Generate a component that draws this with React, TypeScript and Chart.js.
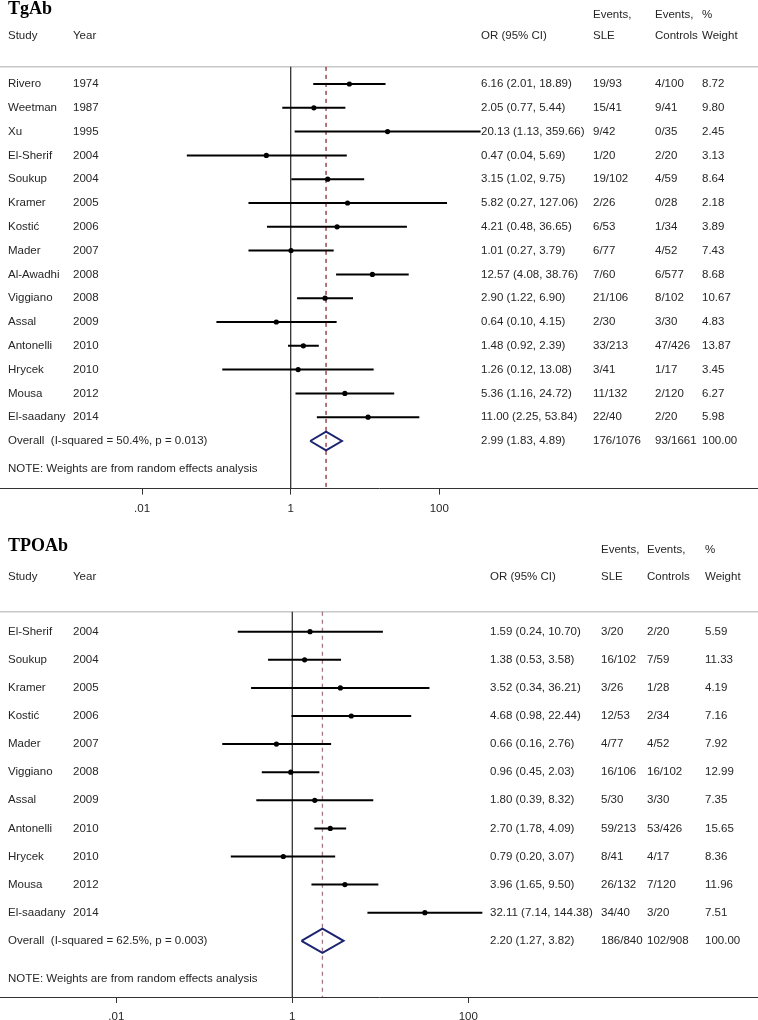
import React, { useEffect, useRef } from 'react';
import { Chart, registerables } from 'chart.js';

Chart.register(...registerables);

// ---------- TgAb data ----------
const tgStudies = ['Rivero', 'Weetman', 'Xu', 'El-Sherif', 'Soukup', 'Kramer', 'Kostić', 'Mader', 'Al-Awadhi', 'Viggiano', 'Assal', 'Antonelli', 'Hrycek', 'Mousa', 'El-saadany'];
const tgYears = [1974, 1987, 1995, 2004, 2004, 2005, 2006, 2007, 2008, 2008, 2009, 2010, 2010, 2012, 2014];
const tgOR = [6.16, 2.05, 20.13, 0.47, 3.15, 5.82, 4.21, 1.01, 12.57, 2.9, 0.64, 1.48, 1.26, 5.36, 11.0];
const tgLow = [2.01, 0.77, 1.13, 0.04, 1.02, 0.27, 0.48, 0.27, 4.08, 1.22, 0.1, 0.92, 0.12, 1.16, 2.25];
const tgHigh = [18.89, 5.44, 359.66, 5.69, 9.75, 127.06, 36.65, 3.79, 38.76, 6.9, 4.15, 2.39, 13.08, 24.72, 53.84];
const tgSLE = ['19/93', '15/41', '9/42', '1/20', '19/102', '2/26', '6/53', '6/77', '7/60', '21/106', '2/30', '33/213', '3/41', '11/132', '22/40'];
const tgControls = ['4/100', '9/41', '0/35', '2/20', '4/59', '0/28', '1/34', '4/52', '6/577', '8/102', '3/30', '47/426', '1/17', '2/120', '2/20'];
const tgWeight = [8.72, 9.8, 2.45, 3.13, 8.64, 2.18, 3.89, 7.43, 8.68, 10.67, 4.83, 13.87, 3.45, 6.27, 5.98];
const tgOverall = [2.99, 1.83, 4.89];
const tgOverallEvents = ['176/1076', '93/1661'];
const tgHeterogeneity = 'Overall  (I-squared = 50.4%, p = 0.013)';

// ---------- TPOAb data ----------
const tpoStudies = ['El-Sherif', 'Soukup', 'Kramer', 'Kostić', 'Mader', 'Viggiano', 'Assal', 'Antonelli', 'Hrycek', 'Mousa', 'El-saadany'];
const tpoYears = [2004, 2004, 2005, 2006, 2007, 2008, 2009, 2010, 2010, 2012, 2014];
const tpoOR = [1.59, 1.38, 3.52, 4.68, 0.66, 0.96, 1.8, 2.7, 0.79, 3.96, 32.11];
const tpoLow = [0.24, 0.53, 0.34, 0.98, 0.16, 0.45, 0.39, 1.78, 0.2, 1.65, 7.14];
const tpoHigh = [10.7, 3.58, 36.21, 22.44, 2.76, 2.03, 8.32, 4.09, 3.07, 9.5, 144.38];
const tpoSLE = ['3/20', '16/102', '3/26', '12/53', '4/77', '16/106', '5/30', '59/213', '8/41', '26/132', '34/40'];
const tpoControls = ['2/20', '7/59', '1/28', '2/34', '4/52', '16/102', '3/30', '53/426', '4/17', '7/120', '3/20'];
const tpoWeight = [5.59, 11.33, 4.19, 7.16, 7.92, 12.99, 7.35, 15.65, 8.36, 11.96, 7.51];
const tpoOverall = [2.2, 1.27, 3.82];
const tpoOverallEvents = ['186/840', '102/908'];
const tpoHeterogeneity = 'Overall  (I-squared = 62.5%, p = 0.003)';

// ---------- shared labels ----------
const xTickValues = [0.01, 1, 100];
const xTickLabels = ['.01', '1', '100'];
const headerLine1 = ['', '', '', 'Events,', 'Events,', '%'];
const headerLine2 = ['Study', 'Year', 'OR (95% CI)', 'SLE', 'Controls', 'Weight'];
const noteText = 'NOTE: Weights are from random effects analysis';

const W = 758;
const FONT = '11.5px "Liberation Sans", Arial, Helvetica, sans-serif';
const TITLE_FONT = 'bold 18px "Liberation Serif", "Times New Roman", serif';
const TEXT_COLOR = '#262626';

type Layout = {
  canvasH: number; row0: number; rowPx: number; yMin: number; yMax: number;
  noteRow: number; xOne: number; decade: number; diamondH: number;
  cols: number[]; titleY: number; head1Y: number; head2Y: number; dashColor: string;
};

type Panel = {
  title: string; studies: string[]; years: number[]; or: number[]; low: number[]; high: number[];
  sle: string[]; controls: string[]; weight: number[]; overall: number[]; overallEvents: string[];
  het: string; L: Layout;
};

const tgPanel: Panel = {
  title: 'TgAb', studies: tgStudies, years: tgYears, or: tgOR, low: tgLow, high: tgHigh,
  sle: tgSLE, controls: tgControls, weight: tgWeight, overall: tgOverall, overallEvents: tgOverallEvents,
  het: tgHeterogeneity,
  L: {
    canvasH: 530, row0: 84, rowPx: 23.8, yMin: -0.72, yMax: 17.0, noteRow: 16.18,
    xOne: 290.7, decade: 74.3, diamondH: 0.39,
    cols: [8, 73, 481, 593, 655, 702], titleY: 13.5, head1Y: 15, head2Y: 36, dashColor: '#8e2a35',
  },
};

const tpoPanel: Panel = {
  title: 'TPOAb', studies: tpoStudies, years: tpoYears, or: tpoOR, low: tpoLow, high: tpoHigh,
  sle: tpoSLE, controls: tpoControls, weight: tpoWeight, overall: tpoOverall, overallEvents: tpoOverallEvents,
  het: tpoHeterogeneity,
  L: {
    canvasH: 490, row0: 101.7, rowPx: 28.1, yMin: -0.71, yMax: 13.0, noteRow: 12.36,
    xOne: 292.3, decade: 88, diamondH: 0.43,
    cols: [8, 73, 490, 601, 647, 705], titleY: 21, head1Y: 20, head2Y: 47, dashColor: '#a57585',
  },
};

const fmtCI = (o: number, l: number, h: number) => `${o.toFixed(2)} (${l.toFixed(2)}, ${h.toFixed(2)})`;

function makeTextPlugin(p: Panel) {
  return {
    id: 'forestText',
    afterDraw(chart: any) {
      const ctx = chart.ctx;
      const ys = chart.scales.y;
      const c = p.L.cols;
      ctx.save();
      ctx.fillStyle = '#000';
      ctx.font = TITLE_FONT;
      ctx.textBaseline = 'alphabetic';
      ctx.textAlign = 'left';
      ctx.fillText(p.title, 8, p.L.titleY);
      ctx.fillStyle = TEXT_COLOR;
      ctx.font = FONT;
      ctx.textBaseline = 'middle';
      headerLine1.forEach((t, i) => { if (t) ctx.fillText(t, c[i], p.L.head1Y); });
      headerLine2.forEach((t, i) => ctx.fillText(t, c[i], p.L.head2Y));
      p.studies.forEach((s, i) => {
        const y = ys.getPixelForValue(i);
        ctx.fillText(s, c[0], y);
        ctx.fillText(String(p.years[i]), c[1], y);
        ctx.fillText(fmtCI(p.or[i], p.low[i], p.high[i]), c[2], y);
        ctx.fillText(p.sle[i], c[3], y);
        ctx.fillText(p.controls[i], c[4], y);
        ctx.fillText(p.weight[i].toFixed(2), c[5], y);
      });
      const oy = ys.getPixelForValue(p.studies.length);
      ctx.fillText(p.het, c[0], oy);
      ctx.fillText(fmtCI(p.overall[0], p.overall[1], p.overall[2]), c[2], oy);
      ctx.fillText(p.overallEvents[0], c[3], oy);
      ctx.fillText(p.overallEvents[1], c[4], oy);
      ctx.fillText((100).toFixed(2), c[5], oy);
      ctx.fillText(noteText, c[0], ys.getPixelForValue(p.L.noteRow));
      ctx.restore();
    },
  };
}

function buildConfig(p: Panel): any {
  const L = p.L;
  const xMin = Math.pow(10, (0 - L.xOne) / L.decade);
  const xMax = Math.pow(10, (W - L.xOne) / L.decade);
  const chartTop = L.row0 + L.yMin * L.rowPx;
  const axisPx = L.row0 + L.yMax * L.rowPx;
  const n = p.studies.length;
  const [ovOR, ovLo, ovHi] = p.overall;

  const points = {
    data: p.or.map((v, i) => ({ x: v, y: i })),
    showLine: false, pointRadius: 2.6, pointBackgroundColor: '#000', pointBorderWidth: 0,
    pointHoverRadius: 2.6,
  };
  const ciLines = p.low.map((lo, i) => ({
    data: [{ x: lo, y: i }, { x: p.high[i], y: i }],
    showLine: true, borderColor: '#000', borderWidth: 2, pointRadius: 0, borderCapStyle: 'butt',
  }));
  const diamond = {
    data: [
      { x: ovLo, y: n }, { x: ovOR, y: n - L.diamondH }, { x: ovHi, y: n },
      { x: ovOR, y: n + L.diamondH }, { x: ovLo, y: n },
    ],
    showLine: true, borderColor: '#1c2470', borderWidth: 2, pointRadius: 0, borderJoinStyle: 'miter', tension: 0,
  };
  const nullLine = {
    data: [{ x: 1, y: L.yMin }, { x: 1, y: L.yMax }],
    showLine: true, borderColor: '#333', borderWidth: 1.3, pointRadius: 0, clip: false,
  };
  const overallLine = {
    data: [{ x: ovOR, y: L.yMin }, { x: ovOR, y: L.yMax }],
    showLine: true, borderColor: L.dashColor, borderWidth: 1.3, borderDash: [4, 4], pointRadius: 0, clip: false,
  };
  const separator = {
    data: [{ x: xMin, y: L.yMin }, { x: xMax, y: L.yMin }],
    showLine: true, borderColor: '#c8c8c8', borderWidth: 1.5, pointRadius: 0, clip: false,
  };

  return {
    type: 'scatter',
    data: { datasets: [points, ...ciLines, diamond, overallLine, nullLine, separator] },
    options: {
      animation: false,
      responsive: false,
      events: [],
      layout: { autoPadding: false, padding: { top: chartTop, left: 0, right: 0, bottom: 0 } },
      plugins: { legend: { display: false }, tooltip: { enabled: false }, title: { display: false } },
      scales: {
        x: {
          type: 'logarithmic',
          min: xMin,
          max: xMax,
          bounds: 'data',
          afterBuildTicks: (scale: any) => { scale.ticks = xTickValues.map((v) => ({ value: v })); },
          afterFit: (scale: any) => { scale.height = L.canvasH - axisPx; },
          grid: { display: true, drawOnChartArea: false, drawTicks: true, tickLength: 6, color: '#333', lineWidth: 1 },
          border: { display: true, color: '#333', width: 1 },
          ticks: {
            autoSkip: false, maxRotation: 0, padding: 7, color: TEXT_COLOR,
            font: { family: '"Liberation Sans", Arial, sans-serif', size: 11.5 },
            callback: (v: number) => {
              const k = xTickValues.findIndex((t) => Math.abs(t - v) < t * 1e-6);
              return k >= 0 ? xTickLabels[k] : '';
            },
          },
        },
        y: {
          type: 'linear', display: false, reverse: true, min: L.yMin, max: L.yMax, bounds: 'data',
        },
      },
    },
    plugins: [makeTextPlugin(p)],
  };
}

function ForestPanel({ panel }: { panel: Panel }) {
  const ref = useRef<HTMLCanvasElement>(null);
  useEffect(() => {
    if (!ref.current) return;
    const chart = new Chart(ref.current, buildConfig(panel));
    return () => chart.destroy();
  }, [panel]);
  return (
    <canvas
      ref={ref}
      width={W}
      height={panel.L.canvasH}
      style={{ display: 'block', width: W, height: panel.L.canvasH }}
    />
  );
}

export default function App() {
  return (
    <div style={{ position: 'absolute', left: 0, top: 0, width: W, height: 1020, background: '#fff' }}>
      <ForestPanel panel={tgPanel} />
      <ForestPanel panel={tpoPanel} />
    </div>
  );
}
